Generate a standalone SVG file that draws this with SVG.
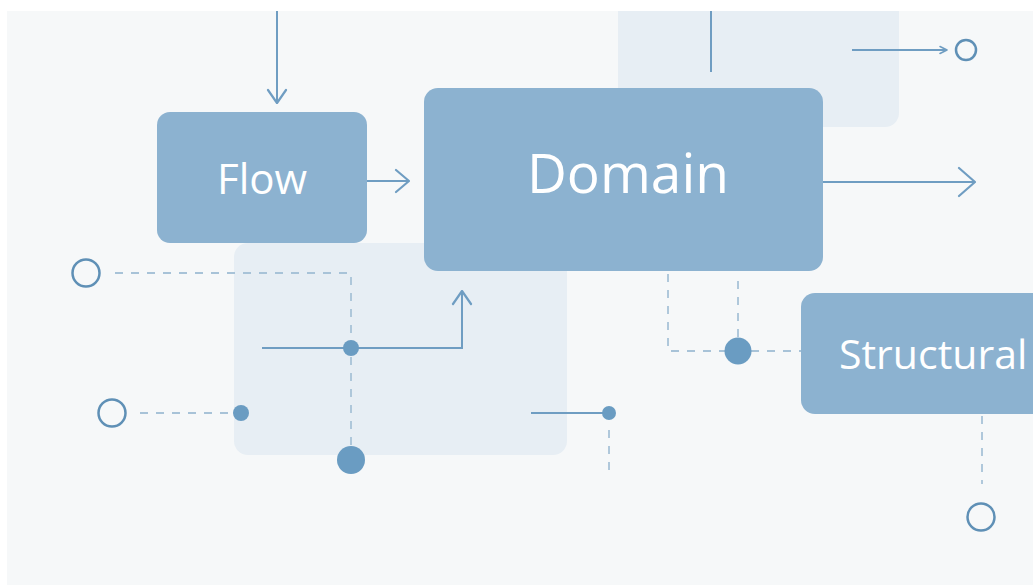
<svg xmlns="http://www.w3.org/2000/svg" width="1033" height="585" viewBox="0 0 1033 585">
<defs>
<marker id="chev" viewBox="0 0 16 22" refX="15" refY="11" markerWidth="16" markerHeight="22" markerUnits="userSpaceOnUse" orient="auto">
<path d="M2,2 L15,11 L2,20" fill="none" stroke="#6f9dc2" stroke-width="2.2" stroke-linecap="round" stroke-linejoin="round"/>
</marker>
<marker id="chevM" viewBox="0 0 16 26" refX="15" refY="13" markerWidth="16" markerHeight="26" markerUnits="userSpaceOnUse" orient="auto">
<path d="M2,2 L15,13 L2,24" fill="none" stroke="#6f9dc2" stroke-width="2.2" stroke-linecap="round" stroke-linejoin="round"/>
</marker>
<marker id="chevL" viewBox="0 0 20 32" refX="19" refY="16" markerWidth="20" markerHeight="32" markerUnits="userSpaceOnUse" orient="auto">
<path d="M3,2 L19,16 L3,30" fill="none" stroke="#6f9dc2" stroke-width="2.2" stroke-linecap="round" stroke-linejoin="round"/>
</marker>
<marker id="chevS" viewBox="0 0 10 10" refX="9" refY="5" markerWidth="10" markerHeight="10" markerUnits="userSpaceOnUse" orient="auto">
<path d="M2,1.5 L9,5 L2,8.5" fill="none" stroke="#6f9dc2" stroke-width="1.6" stroke-linecap="round" stroke-linejoin="round"/>
</marker>
</defs>
<style>
.box{fill:#8cb2d0}
.panel{fill:#e7eef4}
.lbl{fill:#ffffff;font-family:"Open Sans","Noto Sans",sans-serif;text-anchor:middle;font-weight:500}
.ln{fill:none;stroke:#6f9dc2;stroke-width:2}
.dash{fill:none;stroke:#a8c3d8;stroke-width:1.8;stroke-dasharray:8 8}
.ring{fill:none;stroke:#5f90b6;stroke-width:2.5}
.dot{fill:#6a9cc2}
</style>
<rect x="0" y="0" width="1033" height="585" fill="#ffffff"/>
<rect x="7" y="11" width="1026" height="574" fill="#f6f8f9"/>
<g id="panels">
<rect class="panel" x="234" y="243" width="333" height="212" rx="14"/>
<path class="panel" d="M618,11 H899 V113 A14,14 0 0 1 885,127 H632 A14,14 0 0 1 618,113 Z"/>
</g>
<g id="connectors">
<line class="ln" x1="277" y1="11" x2="277" y2="103" marker-end="url(#chev)"/>
<line class="ln" x1="367" y1="181" x2="409" y2="181" marker-end="url(#chevM)"/>
<line class="ln" x1="823" y1="182" x2="975" y2="182" marker-end="url(#chevL)"/>
<line class="ln" x1="711" y1="11" x2="711" y2="72"/>
<line class="ln" x1="852" y1="50" x2="947" y2="50" stroke-width="1.6" marker-end="url(#chevS)"/>
<polyline class="dash" points="115,273 351,273 351,445"/>
<polyline class="ln" points="262,348 462,348 462,291" marker-end="url(#chev)"/>
<line class="dash" x1="140" y1="413" x2="232" y2="413"/>
<line class="ln" x1="531" y1="413" x2="603" y2="413"/>
<line class="dash" x1="609" y1="430" x2="609" y2="472" stroke-dasharray="4 10"/>
<polyline class="dash" points="668,274 668,351 801,351"/>
<line class="dash" x1="738" y1="281" x2="738" y2="337"/>
<line class="dash" x1="982" y1="416" x2="982" y2="484"/>
</g>
<g id="markers">
<circle class="ring" cx="966" cy="50" r="10"/>
<circle class="ring" cx="86" cy="273" r="13.5"/>
<circle class="ring" cx="112" cy="413" r="13.5"/>
<circle class="ring" cx="981" cy="517" r="13.5"/>
<circle class="dot" cx="351" cy="348" r="8"/>
<circle class="dot" cx="241" cy="413" r="8"/>
<circle class="dot" cx="351" cy="460" r="14"/>
<circle class="dot" cx="609" cy="413" r="7"/>
<circle class="dot" cx="738" cy="351" r="13.5"/>
</g>
<g id="node-flow">
<rect class="box" x="157" y="112" width="210" height="131" rx="13"/>
<text class="lbl" x="262" y="194" font-size="42">Flow</text>
</g>
<g id="node-domain">
<rect class="box" x="424" y="88" width="399" height="183" rx="14"/>
<text class="lbl" x="628" y="193" font-size="55">Domain</text>
</g>
<g id="node-structural">
<rect class="box" x="801" y="293" width="260" height="121" rx="14"/>
<text class="lbl" x="839" y="369" font-size="41" style="text-anchor:start">Structural</text>
</g>
</svg>
